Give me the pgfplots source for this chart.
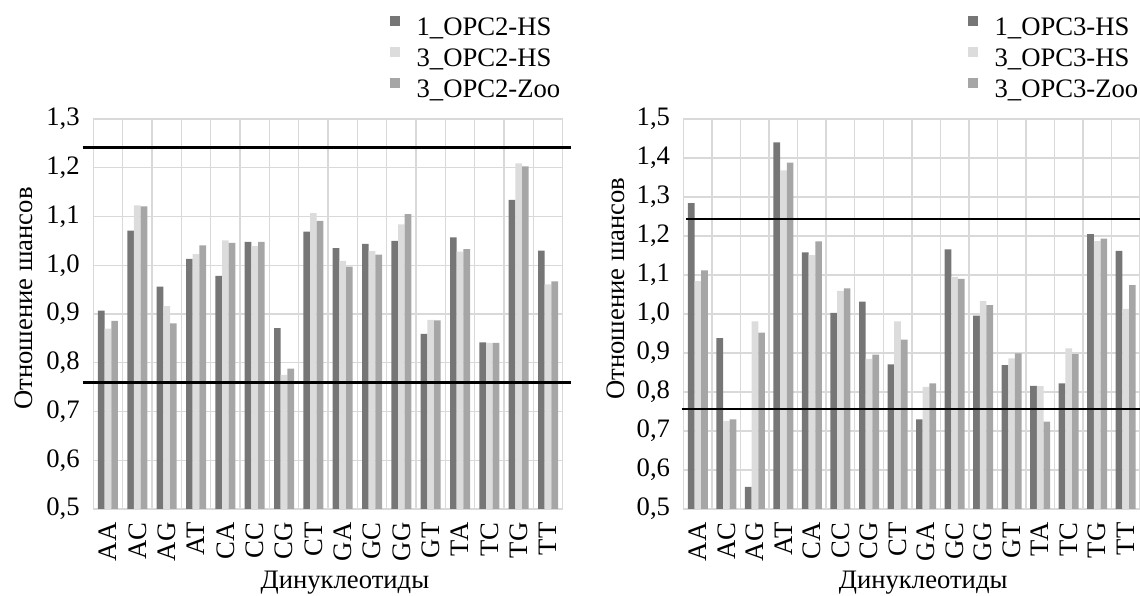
\documentclass[border=0pt]{standalone}
\usepackage{fontspec}
\setmainfont{Liberation Serif}
\usepackage{pgfplots}
\usepackage{pgfplotstable}
\pgfplotsset{compat=1.18}
\definecolor{cdark}{HTML}{767676}
\definecolor{clight}{HTML}{DCDCDC}
\definecolor{cmed}{HTML}{A6A6A6}
\definecolor{cgrid}{HTML}{D9D9D9}

% columns: a = 1_OPC-HS, b = 3_OPC-HS, c = 3_OPC-Zoo
\pgfplotstableread{
x a b c
0  0.907 0.870 0.886
1  1.071 1.123 1.121
2  0.956 0.916 0.881
3  1.013 1.023 1.041
4  0.978 1.051 1.046
5  1.048 1.039 1.048
6  0.871 0.775 0.788
7  1.069 1.107 1.091
8  1.035 1.009 0.997
9  1.044 1.029 1.022
10 1.050 1.084 1.105
11 0.859 0.888 0.887
12 1.057 1.028 1.033
13 0.842 0.841 0.841
14 1.134 1.209 1.203
15 1.030 0.961 0.967
}\dataL

\pgfplotstableread{
x a b c
0  1.284 1.084 1.112
1  0.938 0.726 0.730
2  0.557 0.981 0.952
3  1.440 1.368 1.388
4  1.158 1.151 1.186
5  1.003 1.059 1.066
6  1.032 0.885 0.896
7  0.871 0.981 0.934
8  0.730 0.813 0.822
9  1.166 1.095 1.090
10 0.996 1.033 1.023
11 0.869 0.886 0.899
12 0.816 0.815 0.724
13 0.822 0.912 0.897
14 1.205 1.187 1.193
15 1.162 1.013 1.074
}\dataR

\pgfplotsset{
  sqlegend/.style={legend image code/.code={\fill[##1] (0pt,2.5pt) rectangle (7.5pt,10pt);}},
  mybar/.style={ybar, bar width=5pt, draw=none, sqlegend},
  mybase/.style={
    scale only axis,
    height=292.5pt,
    xmin=-0.5, xmax=15.5, ymin=0,
    y filter/.expression={y-0.5},
    clip=false,
    xtick={0,...,15},
    xticklabels={AA,AC,AG,AT,CA,CC,CG,CT,GA,GC,GG,GT,TA,TC,TG,TT},
    minor xtick={0.5,1.5,...,14.5},
    xmajorgrids=false, xminorgrids=true, ymajorgrids=true,
    grid style={draw=cgrid, line width=1.1pt},
    minor grid style={draw=cgrid, line width=1.1pt},
    axis line style={draw=cgrid, line width=1.1pt},
    major tick length=0pt, minor tick length=0pt,
    tick label style={font=\fontsize{20}{24}\selectfont},
    label style={font=\fontsize{20}{24}\selectfont},
    xticklabel style={rotate=90, anchor=east, inner xsep=10pt},
    yticklabel style={anchor=east, inner xsep=10pt},
    xlabel={Динуклеотиды},
    ylabel={Отношение шансов},
    legend cell align=left,
    legend style={draw=none, fill=none, inner sep=0pt, outer sep=0pt,
      font=\fontsize{20}{24}\selectfont, row sep=0.25pt,
      nodes={inner sep=2pt, text height=14pt, text depth=5pt},
      /tikz/every odd column/.append style={column sep=10.5pt}},
  }
}

\begin{document}
\begin{tikzpicture}
\useasboundingbox (0,0) rectangle (855pt,447pt);

% ---------- left chart ----------
\begin{axis}[mybase,
  at={(70pt,65.25pt)}, anchor=south west,
  width=352pt,
  ymax=0.8,
  ytick={0,0.1,0.2,0.3,0.4,0.5,0.6,0.7,0.8},
  yticklabels={{0,5},{0,6},{0,7},{0,8},{0,9},{1,0},{1,1},{1,2},{1,3}},
  xlabel style={at={(axis description cs:0.536,-0.19)}, anchor=center},
  ylabel style={at={(axis description cs:-0.148,0.54)}, anchor=center},
  legend style={at={(axis description cs:0.632,1.27)}, anchor=north west},
]
\addplot[mybar, bar shift=-5pt, fill=cdark] table[x=x,y=a]{\dataL};
\addlegendentry{1\_OPC2-HS}
\addplot[mybar, bar shift=0pt, fill=clight] table[x=x,y=b]{\dataL};
\addlegendentry{3\_OPC2-HS}
\addplot[mybar, bar shift=5pt, fill=cmed] table[x=x,y=c]{\dataL};
\addlegendentry{3\_OPC2-Zoo}
\addplot[black, line width=2pt, sharp plot, forget plot] coordinates {(-0.86,1.242) (15.77,1.242)};
\addplot[black, line width=2pt, sharp plot, forget plot] coordinates {(-0.86,0.76) (15.77,0.76)};
\end{axis}

% ---------- right chart ----------
\begin{axis}[mybase,
  at={(512.7pt,65.25pt)}, anchor=south west,
  width=342.3pt,
  ymax=1.0,
  ytick={0,0.1,0.2,0.3,0.4,0.5,0.6,0.7,0.8,0.9,1.0},
  yticklabels={{0,5},{0,6},{0,7},{0,8},{0,9},{1,0},{1,1},{1,2},{1,3},{1,4},{1,5}},
  xlabel style={at={(axis description cs:0.525,-0.19)}, anchor=center},
  ylabel style={at={(axis description cs:-0.149,0.565)}, anchor=center},
  legend style={at={(axis description cs:0.623,1.27)}, anchor=north west},
]
\addplot[mybar, bar shift=-5pt, fill=cdark] table[x=x,y=a]{\dataR};
\addlegendentry{1\_OPC3-HS}
\addplot[mybar, bar shift=0pt, fill=clight] table[x=x,y=b]{\dataR};
\addlegendentry{3\_OPC3-HS}
\addplot[mybar, bar shift=5pt, fill=cmed] table[x=x,y=c]{\dataR};
\addlegendentry{3\_OPC3-Zoo}
\addplot[black, line width=2pt, sharp plot, forget plot] coordinates {(-0.40,1.244) (15.7,1.244)};
\addplot[black, line width=2pt, sharp plot, forget plot] coordinates {(-0.56,0.756) (15.7,0.756)};
\end{axis}
\end{tikzpicture}
\end{document}
